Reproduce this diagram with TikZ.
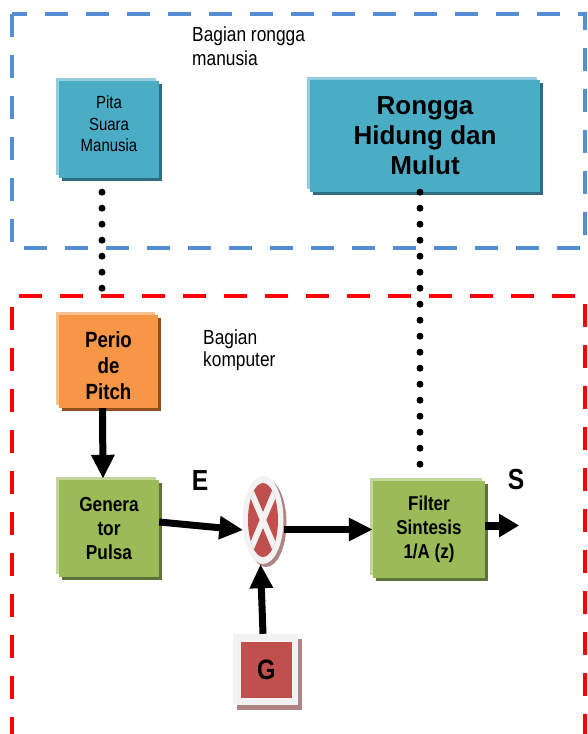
\documentclass[tikz,border=0pt]{standalone}
\usepackage{fontspec}
\setmainfont{Liberation Sans}
\newfontfamily\narrow[FakeStretch=0.85]{Liberation Sans}
\usetikzlibrary{arrows.meta,shadows,calc,shapes.geometric}
\definecolor{bluefill}{HTML}{4BACC6}
\definecolor{bluelight}{HTML}{93CDDD}
\definecolor{bluedark}{HTML}{2E6E80}
\definecolor{orfill}{HTML}{F79646}
\definecolor{orlight}{HTML}{FAC090}
\definecolor{ordark}{HTML}{8F4E1E}
\definecolor{grfill}{HTML}{9BBB59}
\definecolor{grlight}{HTML}{C3D69B}
\definecolor{grdark}{HTML}{5E7335}
\definecolor{redfill}{HTML}{C0504D}
\definecolor{hatch}{HTML}{B08484}
\definecolor{greyfill}{HTML}{F2F2F2}
\definecolor{dashblue}{HTML}{558ED5}
\definecolor{dashred}{HTML}{FF0000}
\begin{document}
\begin{tikzpicture}[x=1pt,y=-1pt,
  boxbase/.style={align=center,inner sep=0pt},
  bluebox/.style={boxbase,fill=bluefill,
    general shadow={shadow xshift=-3pt,shadow yshift=3pt,fill=bluelight},
    general shadow={shadow xshift=3pt,shadow yshift=-3pt,fill=bluedark}},
  orbox/.style={boxbase,fill=orfill,
    general shadow={shadow xshift=-3pt,shadow yshift=3pt,fill=orlight},
    general shadow={shadow xshift=3pt,shadow yshift=-3pt,fill=ordark}},
  grbox/.style={boxbase,fill=grfill,
    general shadow={shadow xshift=-3pt,shadow yshift=3pt,fill=grlight},
    general shadow={shadow xshift=3pt,shadow yshift=-3pt,fill=grdark}},
  region/.style={line width=4pt,dash pattern=on 23pt off 18pt},
  dots/.style={line width=7pt,line cap=round,dash pattern=on 0pt off 16pt},
  bigarrow/.style={line width=7pt,-{Triangle[length=24pt,width=22pt]}},
  lbl/.style={align=left,inner sep=0pt,font=\narrow\fontsize{20.4}{24}\selectfont},
  bigletter/.style={inner sep=0pt,font=\narrow\fontsize{29}{29}\selectfont\bfseries},
]
\useasboundingbox (0,0) rectangle (587,734);

% dashed regions
\begin{scope}
\clip (0,0) rectangle (587,734);
\draw[region,draw=dashblue] (12,14) rectangle (585,248);
\draw[region,draw=dashred] (12,740) -- (12,296) -- (585,296) -- (585,740);
\end{scope}

% labels of regions
\node[lbl,anchor=north west] (lblhuman) at (192,27) {Bagian rongga\\manusia};
\node[lbl,anchor=north west,font=\narrow\fontsize{20.4}{22}\selectfont] (lblcomp) at (203,330) {Bagian\\komputer};

% boxes
\node[bluebox,minimum width=100pt,minimum height=97pt,
      font=\narrow\fontsize{17.6}{21.5}\selectfont] (pita) at (109,129.5)
      {Pita\\Suara\\Manusia\\[-10pt]\rule{0pt}{8pt}};
\node[bluebox,minimum width=230pt,minimum height=112pt,
      font=\fontsize{26}{30}\selectfont\bfseries] (rongga) at (425,136) {Rongga\\Hidung dan\\Mulut};
\node[orbox,minimum width=99pt,minimum height=93pt,
      font=\narrow\fontsize{22}{26}\selectfont\bfseries] (perio) at (108.5,361.5)
      {\rule{0pt}{4pt}\\[-6pt]Perio\\de\\Pitch};
\node[grbox,minimum width=100pt,minimum height=97pt,
      font=\narrow\fontsize{20.3}{24}\selectfont\bfseries] (genera) at (109,528.5) {Genera\\tor\\Pulsa};
\node[grbox,minimum width=112pt,minimum height=97pt,
      font=\narrow\fontsize{20}{24}\selectfont\bfseries] (filter) at (429,529.5) {Filter\\Sintesis\\1/A (z)};

% multiplier
\node[ellipse,fill=greyfill,minimum width=41pt,minimum height=88pt,inner sep=0pt,
      general shadow={shadow xshift=3pt,shadow yshift=-3pt,fill=hatch}] (circ) at (263,520) {};
\begin{scope}[shift={(circ.center)}]
  \clip (0,0) ellipse [x radius=15,y radius=37];
  \fill[redfill] (-16,-38) rectangle (16,38);
  \draw[greyfill,line width=6pt] (-16,-38) -- (16,38);
  \draw[greyfill,line width=6pt] (16,-38) -- (-16,38);
\end{scope}

% G source
\node[fill=greyfill,minimum width=65pt,minimum height=71pt,inner sep=0pt,
      general shadow={shadow xshift=4pt,shadow yshift=-5pt,fill=hatch}] (gsrc) at (265.5,669.5) {};
\node[fill=redfill,minimum width=51pt,minimum height=56pt,inner sep=0pt,
      font=\narrow\fontsize{28}{28}\selectfont\bfseries] (g) at (266.5,670) {G};

% letters
\node[bigletter] (E) at (200,481) {E};
\node[bigletter] (S) at (516,480) {S};

% dotted links
\draw[dots] ($(pita.south)+(-7,14)$) -- ($(perio.north)+(-6.5,-26)$);
\draw[dots] ($(rongga.south)+(-5,0)$) -- ($(filter.north)+(-9,-16)$);

% arrows
\draw[bigarrow] ([xshift=-6pt]perio.south) -- ([xshift=-6pt,yshift=1pt]genera.north);
\draw[bigarrow] ([yshift=6.5pt]genera.east) -- ([yshift=-10pt,xshift=1pt]circ.west);
\draw[bigarrow] (circ.east|-filter.west) -- (filter.west);
\coordinate (sout) at ($(filter.east)+(34,-4)$);
\draw[line width=8pt,-{Triangle[length=20pt,width=22pt]}] ([yshift=4pt]filter.east) -- (sout);
\draw[bigarrow] ([xshift=-2.5pt]gsrc.north) -- ([xshift=-2.5pt]circ.south);
\end{tikzpicture}
\end{document}
